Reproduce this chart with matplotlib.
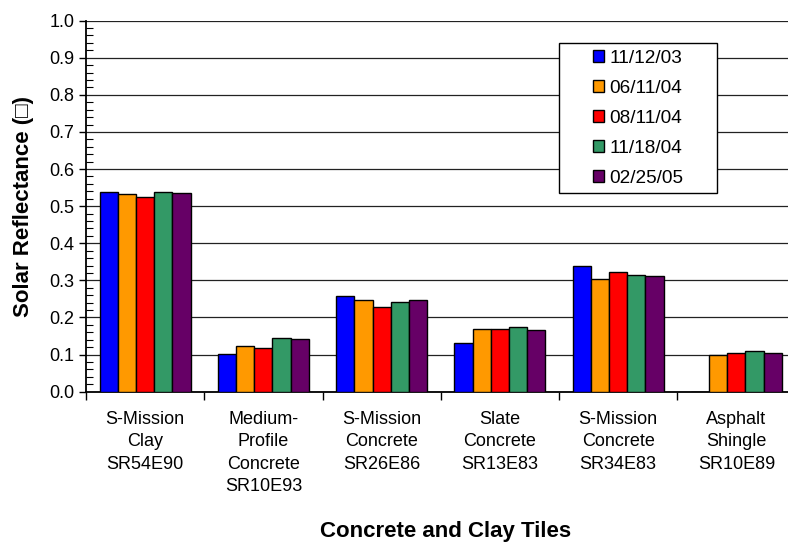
import numpy as np
import matplotlib
matplotlib.use('Agg')
import matplotlib.pyplot as plt
from matplotlib.ticker import MultipleLocator, FormatStrFormatter
from matplotlib.patches import Rectangle

plt.rcParams['font.family'] = ['Liberation Sans', 'DejaVu Sans']

tiles = ['S-Mission\nClay\nSR54E90',
         'Medium-\nProfile\nConcrete\nSR10E93',
         'S-Mission\nConcrete\nSR26E86',
         'Slate\nConcrete\nSR13E83',
         'S-Mission\nConcrete\nSR34E83',
         'Asphalt\nShingle\nSR10E89']
dates = ['11/12/03', '06/11/04', '08/11/04', '11/18/04', '02/25/05']
colors = ['#0000FF', '#FF9900', '#FF0000', '#339966', '#660066']

# reflectance per tile, one list per measurement date
r_111203 = [0.537, 0.102, 0.259, 0.130, 0.340, 0.0]
r_061104 = [0.532, 0.124, 0.247, 0.169, 0.304, 0.099]
r_081104 = [0.526, 0.117, 0.229, 0.169, 0.323, 0.103]
r_111804 = [0.537, 0.145, 0.241, 0.175, 0.315, 0.111]
r_022505 = [0.536, 0.141, 0.246, 0.166, 0.312, 0.104]
series = [r_111203, r_061104, r_081104, r_111804, r_022505]

fig = plt.figure(figsize=(7.88, 5.42), dpi=100)
ax = fig.add_axes([86/788, 150.3/542, (795.5-86)/788, 371.1/542])

w = 1/6.5
x = np.arange(len(tiles))
for i in range(len(series)):
    ax.bar(x - 2.5*w + (i + 0.5)*w, series[i], w, color=colors[i],
           edgecolor='black', linewidth=1.0, label=dates[i], zorder=3)

ax.set_xlim(-0.5, len(tiles) - 0.5)
ax.set_ylim(0, 1.0)
ax.yaxis.set_major_locator(MultipleLocator(0.1))
ax.yaxis.set_minor_locator(MultipleLocator(0.02))
ax.yaxis.set_major_formatter(FormatStrFormatter('%.1f'))
ax.tick_params(axis='y', which='major', direction='out', length=5, width=1, labelsize=13)
ax.tick_params(axis='y', which='minor', direction='in', length=5, width=0.8)

ax.set_xticks(x)
ax.set_xticklabels(tiles, fontsize=13, linespacing=1.4)
ax.set_xticks(np.arange(-0.5, len(tiles)), minor=True)
ax.tick_params(axis='x', which='major', length=0, pad=14)
ax.tick_params(axis='x', which='minor', direction='out', length=6, width=1)

ax.grid(axis='y', which='major', color='#222222', linewidth=0.9, zorder=0)
ax.set_axisbelow(True)
for s in ['top', 'right']:
    ax.spines[s].set_visible(False)
ax.spines['left'].set_linewidth(1.3)
ax.spines['bottom'].set_linewidth(1.3)

ax.set_ylabel('Solar Reflectance (\u25a1)', fontsize=16, fontweight='bold', labelpad=11)
fig.text(446/788, 1 - 531/542, 'Concrete and Clay Tiles',
         ha='center', va='center', fontsize=16, fontweight='bold')

# legend box drawn separately so the entries sit centred inside it
box = Rectangle((0.6667, 0.5346), 0.2227, 0.4042, transform=ax.transAxes,
                facecolor='white', edgecolor='black', linewidth=1.0, zorder=5)
ax.add_patch(box)
leg = ax.legend(loc='center', bbox_to_anchor=(0.778, 0.7367), fontsize=13.7,
                frameon=False, handlelength=0.58, handleheight=0.58,
                handletextpad=0.28, labelspacing=0.69, borderpad=0)
leg.set_zorder(6)

plt.savefig('out.png', dpi=100)
